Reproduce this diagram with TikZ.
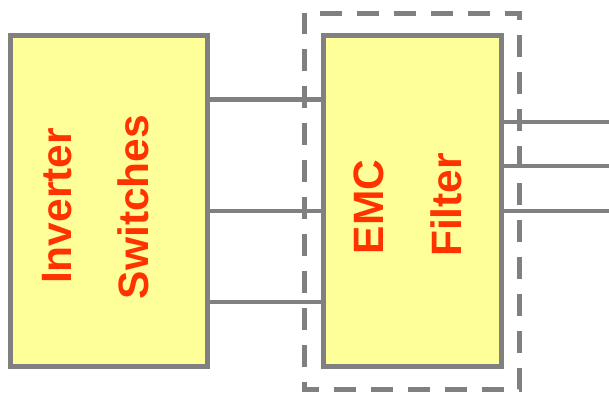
\documentclass[tikz,border=0pt]{standalone}
\usepackage{fontspec}
\setmainfont{Liberation Sans}
\definecolor{boxfill}{HTML}{FFFF99}
\definecolor{boxline}{HTML}{808080}
\definecolor{txtred}{HTML}{FF3300}
\begin{document}
\begin{tikzpicture}[x=1pt,y=-1pt,
  blockbox/.style={draw=boxline,line width=5pt,fill=boxfill,inner sep=0pt},
  wire/.style={draw=boxline,line width=4.2pt},
  lbl/.style={text=txtred,font=\fontsize{42.5}{42.5}\selectfont\bfseries,rotate=90,inner sep=0pt}]
\useasboundingbox (0,0) rectangle (609,392);
% dashed enclosure
\draw[boxline,line width=5pt,dash pattern=on 22pt off 15pt,dash phase=22pt]
  (304.5,13) -- (519.5,13) -- (519.5,389.5) -- (304.5,389.5) -- cycle;
% boxes
\node[blockbox,minimum width=197pt,minimum height=331pt] (A) at (109,201) {};
\node[blockbox,minimum width=178pt,minimum height=331pt] (B) at (412.5,201) {};
% wires between boxes
\draw[wire] (A.east |- 0,99.5) -- (B.west |- 0,99.5);
\draw[wire] (A.east |- 0,211) -- (B.west |- 0,211);
\draw[wire] (A.east |- 0,302) -- (B.west |- 0,302);
% output wires
\coordinate (o1) at (609,122);
\coordinate (o2) at (609,166);
\coordinate (o3) at (609,211);
\draw[wire] (B.east |- o1) -- (o1);
\draw[wire] (B.east |- o2) -- (o2);
\draw[wire] (B.east |- o3) -- (o3);
% labels
\node[lbl] (t1) at (57.5,206) {Inverter};
\node[lbl] (t2) at (133.5,207) {Switches};
\node[lbl] (t3) at (368.5,207) {EMC};
\node[lbl] (t4) at (446,205) {Filter};
\end{tikzpicture}
\end{document}
